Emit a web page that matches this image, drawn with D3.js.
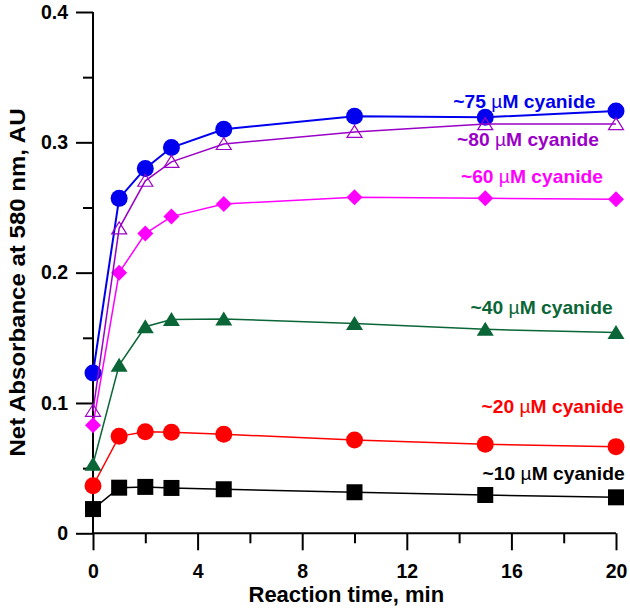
<!DOCTYPE html>
<html>
<head>
<meta charset="utf-8">
<script src="https://cdn.jsdelivr.net/npm/d3@7"></script>
<style>
  html, body { margin: 0; padding: 0; background: #fff; }
  svg { display: block; font-family: "Liberation Sans", Arial, Helvetica, sans-serif; font-weight: bold; }
</style>
</head>
<body>
<svg id="chart" width="630" height="608"></svg>
<script>
// ---- data ----
const times = [0, 1, 2, 3, 5, 10, 15, 20];
const cyanide10 = [0.0186, 0.0350, 0.0356, 0.0348, 0.0338, 0.0315, 0.0294, 0.0276];
const cyanide20 = [0.0365, 0.0744, 0.0780, 0.0775, 0.0760, 0.0716, 0.0683, 0.0665];
const cyanide40 = [0.0530, 0.1290, 0.1585, 0.1640, 0.1645, 0.1610, 0.1565, 0.1540];
const cyanide60 = [0.0830, 0.2000, 0.2300, 0.2430, 0.2527, 0.2578, 0.2570, 0.2563];
const cyanide75 = [0.1230, 0.2570, 0.2800, 0.2960, 0.3100, 0.3200, 0.3192, 0.3240];
const cyanide80 = [0.0940, 0.2340, 0.2705, 0.2850, 0.2987, 0.3080, 0.3140, 0.3140];
const seriesLabels = ["~10", "~20", "~40", "~60", "~75", "~80"];
const xTicks = [0, 4, 8, 12, 16, 20];
const xMinorTicks = [2, 6, 10, 14, 18];
const yTicks = [0, 0.1, 0.2, 0.3, 0.4];
const yMinorTicks = [0.05, 0.15, 0.25, 0.35];
const xTitle = "Reaction time, min";
const yTitle = "Net Absorbance at 580 nm, AU";

// ---- styling / layout (not data) ----
const styles = [
  { values: cyanide10, color: "#000000", shape: "square",   fill: true,  lw: 1.5, lab: [14.90, 0.0409] },
  { values: cyanide20, color: "#ff0000", shape: "circle",   fill: true,  lw: 1.5, lab: [14.86, 0.0921] },
  { values: cyanide40, color: "#0a6636", shape: "triangle", fill: true,  lw: 1.5, lab: [14.44, 0.1683] },
  { values: cyanide60, color: "#ff00ff", shape: "diamond",  fill: true,  lw: 1.5, lab: [14.07, 0.2686] },
  { values: cyanide75, color: "#0000ee", shape: "circle",   fill: true,  lw: 2,   lab: [13.78, 0.3261] },
  { values: cyanide80, color: "#9a00c8", shape: "triangle", fill: false, lw: 1.5, lab: [13.92, 0.2972] }
];

const svg = d3.select("#chart");
const x = d3.scaleLinear().domain([0, 20]).range([93, 616]);
const y = d3.scaleLinear().domain([0, 0.4]).range([533.3, 12]);

// axes
const majorLen = 17, minorLen = 10;
const yAxis = d3.axisLeft(y).tickValues(yTicks).tickSize(majorLen).tickPadding(8)
  .tickFormat(d => d === 0 ? "0" : d3.format(".1f")(d));
const gy = svg.append("g").attr("transform", `translate(${x(0)},0)`).call(yAxis);
gy.select(".domain").remove();
gy.selectAll(".tick line").attr("stroke", "#000").attr("stroke-width", 2);
gy.selectAll(".tick text").attr("font-size", 19.5).attr("fill", "#000").attr("font-weight", "bold");
svg.append("g").attr("transform", `translate(${x(0)},0)`)
  .call(d3.axisLeft(y).tickValues(yMinorTicks).tickSize(minorLen).tickFormat(""))
  .call(g => g.select(".domain").remove())
  .selectAll("line").attr("stroke", "#000").attr("stroke-width", 2);

const xAxis = d3.axisBottom(x).tickValues(xTicks).tickSize(majorLen).tickPadding(14);
const gx = svg.append("g").attr("transform", `translate(0,${y(0)})`).call(xAxis);
gx.select(".domain").remove();
gx.selectAll(".tick line").attr("stroke", "#000").attr("stroke-width", 2);
gx.selectAll(".tick text").attr("font-size", 19.5).attr("fill", "#000").attr("font-weight", "bold");
svg.append("g").attr("transform", `translate(0,${y(0)})`)
  .call(d3.axisBottom(x).tickValues(xMinorTicks).tickSize(minorLen).tickFormat(""))
  .call(g => g.select(".domain").remove())
  .selectAll("line").attr("stroke", "#000").attr("stroke-width", 2);

// axis lines
svg.append("line").attr("x1", x(0)).attr("x2", x(0)).attr("y1", y(0.4)).attr("y2", y(0))
  .attr("stroke", "#000").attr("stroke-width", 2);
svg.append("line").attr("x1", x(0)).attr("x2", x(20)).attr("y1", y(0)).attr("y2", y(0))
  .attr("stroke", "#000").attr("stroke-width", 2);

// titles
svg.append("text").attr("x", 346.3).attr("y", 601.7).attr("text-anchor", "middle")
  .attr("font-size", 22).attr("fill", "#000").text(xTitle);
svg.append("text").attr("transform", "translate(24.5,282.5) rotate(-90)").attr("text-anchor", "middle")
  .attr("font-size", 22).attr("fill", "#000")
  .attr("textLength", 348).attr("lengthAdjust", "spacingAndGlyphs").text(yTitle);

// series
const line = d3.line().x((d, i) => x(times[i])).y(d => y(d));
const sym = {
  circle: d3.symbol().type(d3.symbolCircle).size(Math.PI * 8.5 * 8.5),
  square: d3.symbol().type(d3.symbolSquare).size(16 * 16)
};
function markerPath(shape, fill) {
  if (shape === "circle") return sym.circle();
  if (shape === "square") return sym.square();
  if (shape === "diamond") return "M0,-8L8,0L0,8L-8,0Z";
  if (shape === "triangle") return fill ? "M0,-7.5L8.5,6.5L-8.5,6.5Z" : "M0,-6.5L7.5,5.5L-7.5,5.5Z";
}

styles.forEach((s, k) => {
  const g = svg.append("g");
  g.append("path").datum(s.values).attr("d", line)
    .attr("fill", "none").attr("stroke", s.color).attr("stroke-width", s.lw);
  g.selectAll("path.m").data(s.values).join("path").attr("class", "m")
    .attr("transform", (d, i) => `translate(${x(times[i])},${y(d)})`)
    .attr("d", markerPath(s.shape, s.fill))
    .attr("fill", s.fill ? s.color : "#fff")
    .attr("fill-opacity", s.fill ? 1 : 0)
    .attr("stroke", s.fill ? "none" : s.color)
    .attr("stroke-width", s.fill ? 0 : 1.2);
});

// labels
styles.forEach((s, k) => {
  const t = svg.append("text").attr("x", x(s.lab[0])).attr("y", y(s.lab[1]))
    .attr("font-size", 18.5).attr("fill", s.color)
    .attr("textLength", 142).attr("lengthAdjust", "spacingAndGlyphs");
  t.append("tspan").text(seriesLabels[k] + " ");
  t.append("tspan").attr("font-weight", "normal").text("\u00b5");
  t.append("tspan").text("M cyanide");
});
</script>
</body>
</html>
